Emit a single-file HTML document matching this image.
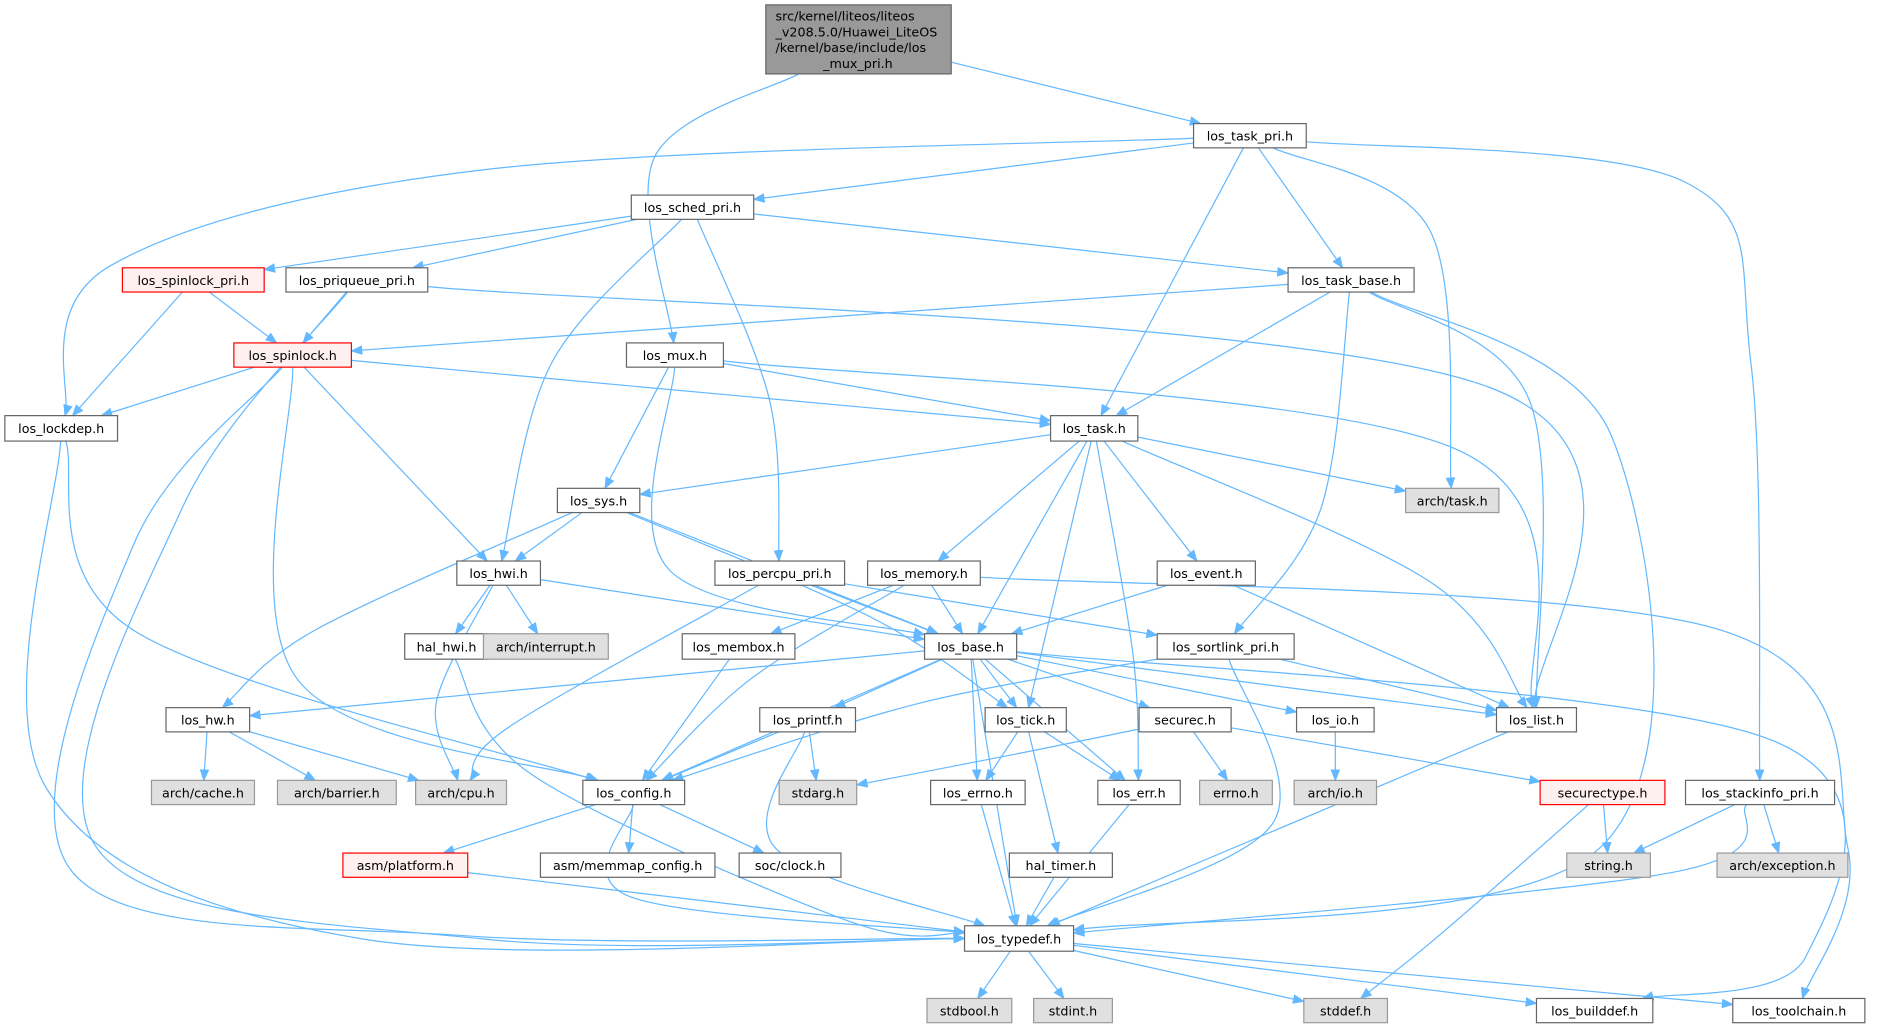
<!DOCTYPE html>
<html><head><meta charset="utf-8"><style>
html,body{margin:0;padding:0;background:#fff;width:1900px;height:1033px;overflow:hidden}
svg{display:block}
text{font-family:"DejaVu Sans","Liberation Sans",sans-serif;font-size:10.5px;fill:#000}
</style></head><body>
<svg id="s" width="1900" height="1033" viewBox="0 0 1568 852.5" xmlns="http://www.w3.org/2000/svg">
<defs><marker id="a" markerWidth="10" markerHeight="8" refX="9" refY="4" orient="auto" markerUnits="userSpaceOnUse"><path d="M0,0 L10,4 L0,8 z" fill="#63b8ff"/></marker></defs>
<g id="e"></g><g id="n"></g>
</svg>
<script>
var N={
root:[632,4,785,61,'r',''],
tp:[985,102,1078,122,'w','los_task_pri.h'],
sp:[521,161,622,181,'w','los_sched_pri.h'],
slp:[101,221,218,241,'red','los_spinlock_pri.h'],
pq:[236,221,353,241,'w','los_priqueue_pri.h'],
tb:[1063,221,1167,241,'w','los_task_base.h'],
sl:[193,283,290,303,'red','los_spinlock.h'],
mux:[517,283,597,303,'w','los_mux.h'],
ld:[4,343,97,364,'w','los_lockdep.h'],
task:[867,343,939,364,'w','los_task.h'],
sys:[460,403,528,423,'w','los_sys.h'],
atask:[1160,403,1237,423,'g','arch/task.h'],
hwi:[377,463,446,483,'w','los_hwi.h'],
pc:[590,463,697,483,'w','los_percpu_pri.h'],
mem:[716,463,809,483,'w','los_memory.h'],
ev:[955,463,1036,483,'w','los_event.h'],
hh:[334,523,403,544,'w','hal_hwi.h'],
ai:[399,523,502,544,'g','arch/interrupt.h'],
mb:[563,523,656,544,'w','los_membox.h'],
base:[763,523,839,544,'w','los_base.h'],
sort:[955,523,1068,544,'w','los_sortlink_pri.h'],
hw:[137,584,206,604,'w','los_hw.h'],
pf:[627,584,706,604,'w','los_printf.h'],
tick:[813,584,880,604,'w','los_tick.h'],
sec:[940,584,1016,604,'w','securec.h'],
io:[1070,584,1134,604,'w','los_io.h'],
list:[1235,584,1301,604,'w','los_list.h'],
ac:[125,644,210,664,'g','arch/cache.h'],
ab:[229,644,327,664,'g','arch/barrier.h'],
cpu:[343,644,418,664,'g','arch/cpu.h'],
cfg:[481,644,565,664,'w','los_config.h'],
sa:[643,644,707,664,'g','stdarg.h'],
errno:[768,644,846,664,'w','los_errno.h'],
err:[906,644,974,664,'w','los_err.h'],
eno:[990,644,1050,664,'g','errno.h'],
aio:[1068,644,1136,664,'g','arch/io.h'],
st:[1271,644,1374,664,'red','securectype.h'],
si:[1391,644,1514,664,'w','los_stackinfo_pri.h'],
str:[1293,704,1362,724,'g','string.h'],
aex:[1417,704,1525,724,'g','arch/exception.h'],
plat:[283,704,386,724,'red','asm/platform.h'],
mm:[446,704,590,724,'w','asm/memmap_config.h'],
clk:[610,704,694,724,'w','soc/clock.h'],
ht:[833,704,918,724,'w','hal_timer.h'],
td:[796,764,886,785,'w','los_typedef.h'],
sb:[765,824,835,844,'g','stdbool.h'],
si2:[853,824,918,844,'g','stdint.h'],
sd:[1076,824,1145,844,'g','stddef.h'],
bd:[1268,824,1364,844,'w','los_builddef.h'],
tc:[1430,824,1539,844,'w','los_toolchain.h']};
var E={root:'tp mux',tp:'ld sp task atask tb si',sp:'slp pq tb hwi pc',slp:'ld sl',pq:'sl td list',
tb:'sl task sort list td',sl:'ld task hwi cfg td',mux:'task sys base list',ld:'td cfg',
task:'sys atask mem ev base tick list err',sys:'hwi base hw tick',hwi:'hh ai base cpu',pc:'base sort cpu',
mem:'mb base cfg tc',ev:'base list',hh:'td',mb:'cfg',base:'hw pf tick sec io list cfg errno err td bd',
sort:'list td cfg',hw:'ac ab cpu',pf:'cfg sa td',tick:'errno err ht',sec:'sa eno st',io:'aio',list:'td',
cfg:'plat mm clk td',errno:'td',err:'td',st:'str sd',si:'str aex td',plat:'td',ht:'td',td:'sb si2 sd bd tc'};
var W={
'tp-ld':[[400,140],[90,220]],'tp-atask':[[1180,190]],'tp-si':[[1390,150],[1445,300]],
'tb-td':[[1330,360],[1320,700]],'tb-list':[[1262,330]],'tb-sort':[[1090,420]],
'pq-td':[[150,420],[80,700],[400,775]],'sl-td':[[110,450],[60,720],[380,772]],
'sl-cfg':[[245,560]],'ld-cfg':[[110,520]],'ld-td':[[38,650],[300,775]],
'mux-base':[[552,470]],'mux-list':[[1200,370]],'task-err':[[935,540]],'task-list':[[1180,480]],
'mem-tc':[[1420,520],[1525,700]],'mem-cfg':[[620,560]],'base-bd':[[1460,610],[1490,790]],
'hh-td':[[440,640],[700,760]],'pc-cpu':[[420,600]],'sort-td':[[1050,680]],'sort-cfg':[[760,580]],
'pf-td':[[640,700]],'cfg-td':[[520,740]],'st-sd':[[1190,770]],'si-td':[[1380,720]],
'sys-hw':[[260,520]],'sys-tick':[[720,510]],'sp-hwi':[[455,300]],'sp-pc':[[635,330]],
'pq-list':[[1230,320]],'root-mux':[[540,130]],'hwi-cpu':[[360,580]],'sec-sa':[[850,620]]};
var NS='http://www.w3.org/2000/svg';
function el(t,a,p){var e=document.createElementNS(NS,t);for(var k in a)e.setAttribute(k,a[k]);p.appendChild(e);return e}
function clip(r,dx,dy){var cx=(r[0]+r[2])/2,cy=(r[1]+r[3])/2,hw=(r[2]-r[0])/2,hh=(r[3]-r[1])/2;
var t=Math.min(dx?hw/Math.abs(dx):1e9,dy?hh/Math.abs(dy):1e9);return [cx+dx*t,cy+dy*t]}
function ctr(r){return [(r[0]+r[2])/2,(r[1]+r[3])/2]}
var ge=document.getElementById('e'),gn=document.getElementById('n');
Object.keys(E).forEach(function(s){E[s].split(' ').forEach(function(t){var a=N[s],b=N[t];
var w=W[s+'-'+t]||[];var ca=ctr(a),cb=ctr(b);
var f=w.length?w[0]:cb,l=w.length?w[w.length-1]:ca;
var p=clip(a,f[0]-ca[0],f[1]-ca[1]),q=clip(b,l[0]-cb[0],l[1]-cb[1]);
var pts=[p].concat(w,[q]);var d='M'+p[0]+','+p[1];
if(pts.length==2){d+=' L'+q[0]+','+q[1];}else{
for(var i=0;i<pts.length-1;i++){var p0=pts[i-1]||pts[i],p1=pts[i],p2=pts[i+1],p3=pts[i+2]||p2;
var c1=[p1[0]+(p2[0]-p0[0])/6,p1[1]+(p2[1]-p0[1])/6],c2=[p2[0]-(p3[0]-p1[0])/6,p2[1]-(p3[1]-p1[1])/6];
d+=' C'+c1+' '+c2+' '+p2;}}
el('path',{d:d,fill:'none',stroke:'#63b8ff','stroke-width':1,'marker-end':'url(#a)'},ge);});});
Object.keys(N).forEach(function(k){var r=N[k];var f='#fff',sc='#666';
if(r[4]=='r'){f='#999';sc='#666'}else if(r[4]=='g'){f='#e0e0e0';sc='#999'}else if(r[4]=='red'){f='#fff0f0';sc='#f00'}
el('rect',{x:r[0],y:r[1],width:r[2]-r[0],height:r[3]-r[1],fill:f,stroke:sc,'stroke-width':1},gn);
if(k=='root'){var L=['src/kernel/liteos/liteos','_v208.5.0/Huawei_LiteOS','/kernel/base/include/los','_mux_pri.h'];
L.forEach(function(s,i){var tx=el('text',{x:i==3?708:640,y:17+i*13,'text-anchor':i==3?'middle':'start'},gn);tx.textContent=s;});}
else{var tx=el('text',{x:(r[0]+r[2])/2,y:(r[1]+r[3])/2+4,'text-anchor':'middle'},gn);tx.textContent=r[5];}});
</script>
</body></html>
